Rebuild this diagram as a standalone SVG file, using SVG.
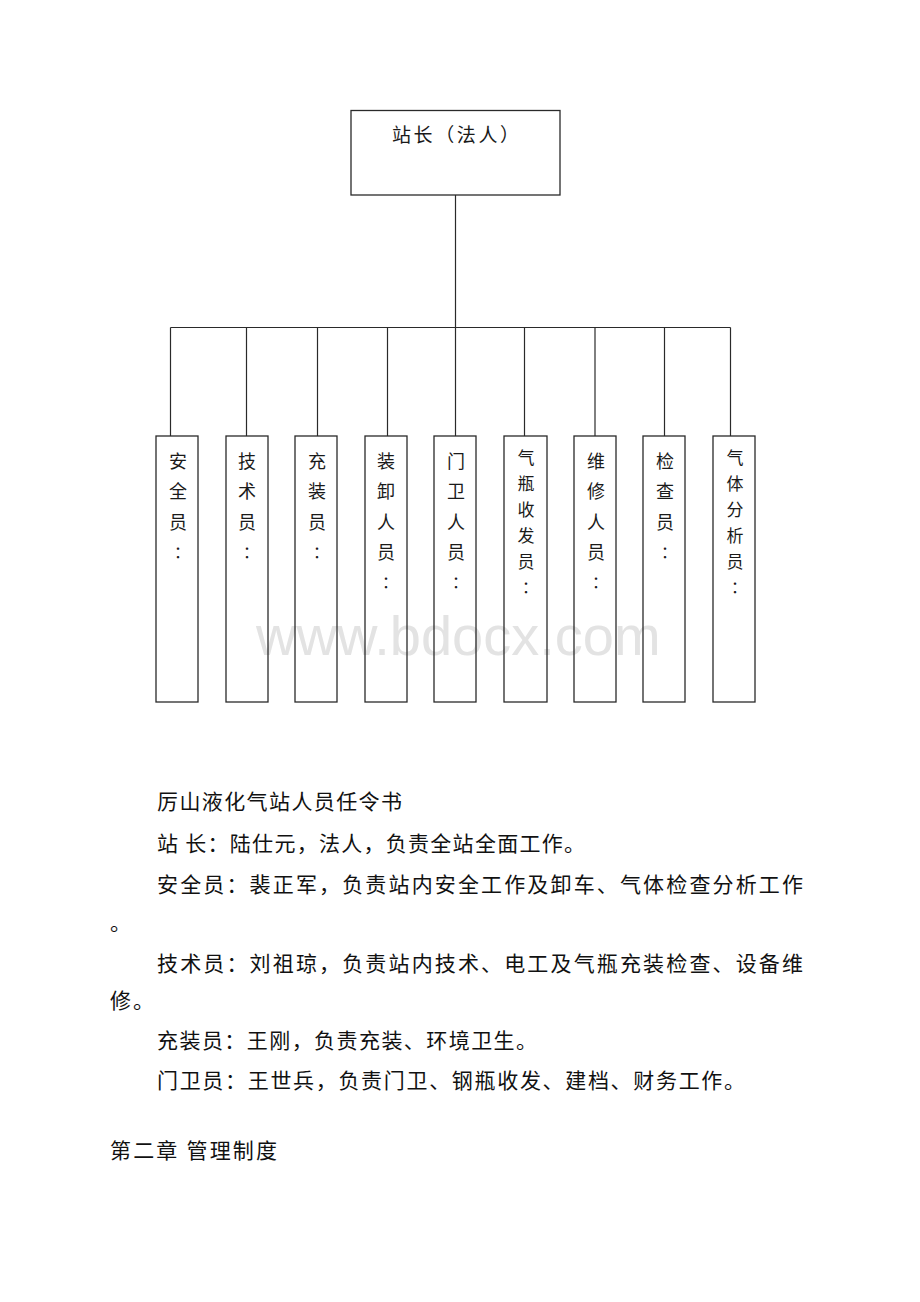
<svg xmlns="http://www.w3.org/2000/svg" width="920" height="1302" viewBox="0 0 920 1302">
<style>
.box{fill:none;stroke:#2a2a2a;stroke-width:1.3}
.ln{stroke:#2a2a2a;stroke-width:1.2;fill:none}
.lb{font-family:"Noto Sans CJK SC","Noto Sans",sans-serif;font-size:18px;fill:#1a1a1a;text-anchor:middle}
.lbs{font-family:"Noto Sans CJK SC","Noto Sans",sans-serif;font-size:17px;fill:#1a1a1a;text-anchor:middle}
.col{font-family:"Noto Sans CJK TC","Noto Sans",sans-serif;font-size:16px;fill:#1a1a1a;text-anchor:middle}
.p{font-family:"Noto Sans CJK SC","Liberation Serif",serif;font-size:21px;fill:#111}
.wm{font-family:"Liberation Sans",Arial,sans-serif;font-size:56px;fill:#e3e3e3}
</style>
<rect width="920" height="1302" fill="#fff"/>
<text class="wm" x="256" y="655">www.bdocx.com</text>
<g id="connectors">
<line class="ln" x1="455.5" y1="195" x2="455.5" y2="327.5"/>
<line class="ln" x1="170.5" y1="327.5" x2="730.5" y2="327.5"/>
<line class="ln" x1="170.5" y1="327.5" x2="170.5" y2="436"/>
<line class="ln" x1="246.5" y1="327.5" x2="246.5" y2="436"/>
<line class="ln" x1="317.5" y1="327.5" x2="317.5" y2="436"/>
<line class="ln" x1="387.5" y1="327.5" x2="387.5" y2="436"/>
<line class="ln" x1="455.5" y1="327.5" x2="455.5" y2="436"/>
<line class="ln" x1="524.5" y1="327.5" x2="524.5" y2="436"/>
<line class="ln" x1="595" y1="327.5" x2="595" y2="436"/>
<line class="ln" x1="664.5" y1="327.5" x2="664.5" y2="436"/>
<line class="ln" x1="730.5" y1="327.5" x2="730.5" y2="436"/>
</g>
<g id="n-head">
<rect class="box" x="351" y="110.5" width="209" height="84.5"/>
<text x="392" y="142" textLength="127" lengthAdjust="spacing" style="font-family:'Noto Sans CJK SC',sans-serif;font-size:19px;fill:#1a1a1a">站长（法人）</text>
</g>
<g id="n-anquan">
<rect class="box" x="156" y="436" width="42" height="266"/>
<text class="lb" x="178" y="468">安</text><text class="lb" x="178" y="498">全</text><text class="lb" x="178" y="529">员</text><text class="col" x="178" y="559">：</text>
</g>
<g id="n-jishu">
<rect class="box" x="226" y="436" width="42" height="266"/>
<text class="lb" x="247" y="468">技</text><text class="lb" x="247" y="498">术</text><text class="lb" x="247" y="529">员</text><text class="col" x="247" y="559">：</text>
</g>
<g id="n-chongzhuang">
<rect class="box" x="295" y="436" width="42" height="266"/>
<text class="lb" x="317" y="468">充</text><text class="lb" x="317" y="498">装</text><text class="lb" x="317" y="529">员</text><text class="col" x="317" y="559">：</text>
</g>
<g id="n-zhuangxie">
<rect class="box" x="365" y="436" width="42" height="266"/>
<text class="lb" x="386" y="468">装</text><text class="lb" x="386" y="498">卸</text><text class="lb" x="386" y="529">人</text><text class="lb" x="386" y="559">员</text><text class="col" x="386" y="589">：</text>
</g>
<g id="n-menwei">
<rect class="box" x="434" y="436" width="42" height="266"/>
<text class="lb" x="456" y="468">门</text><text class="lb" x="456" y="498">卫</text><text class="lb" x="456" y="529">人</text><text class="lb" x="456" y="559">员</text><text class="col" x="456" y="589">：</text>
</g>
<g id="n-qiping">
<rect class="box" x="504" y="436" width="43" height="266"/>
<text class="lbs" x="526" y="464">气</text><text class="lbs" x="526" y="490">瓶</text><text class="lbs" x="526" y="516">收</text><text class="lbs" x="526" y="542">发</text><text class="lbs" x="526" y="568">员</text><text class="col" x="526" y="594">：</text>
</g>
<g id="n-weixiu">
<rect class="box" x="574" y="436" width="42" height="266"/>
<text class="lb" x="596" y="468">维</text><text class="lb" x="596" y="498">修</text><text class="lb" x="596" y="529">人</text><text class="lb" x="596" y="559">员</text><text class="col" x="596" y="589">：</text>
</g>
<g id="n-jiancha">
<rect class="box" x="643" y="436" width="42" height="266"/>
<text class="lb" x="665" y="468">检</text><text class="lb" x="665" y="498">查</text><text class="lb" x="665" y="529">员</text><text class="col" x="665" y="559">：</text>
</g>
<g id="n-fenxi">
<rect class="box" x="713" y="436" width="42" height="266"/>
<text class="lbs" x="735" y="464">气</text><text class="lbs" x="735" y="490">体</text><text class="lbs" x="735" y="516">分</text><text class="lbs" x="735" y="542">析</text><text class="lbs" x="735" y="568">员</text><text class="col" x="735" y="594">：</text>
</g>
<g id="text-body">
<text class="p" x="157" y="809" textLength="245" lengthAdjust="spacing">厉山液化气站人员任令书</text>
<text class="p" x="157" y="851" textLength="428" lengthAdjust="spacing">站 长：陆仕元，法人，负责全站全面工作。</text>
<text class="p" x="157" y="892" textLength="646" lengthAdjust="spacing">安全员：裴正军，负责站内安全工作及卸车、气体检查分析工作</text>
<text class="p" x="110" y="930">。</text>
<text class="p" x="157" y="971" textLength="646" lengthAdjust="spacing">技术员：刘祖琼，负责站内技术、电工及气瓶充装检查、设备维</text>
<text class="p" x="110" y="1008" textLength="44" lengthAdjust="spacing">修。</text>
<text class="p" x="157" y="1048" textLength="380" lengthAdjust="spacing">充装员：王刚，负责充装、环境卫生。</text>
<text class="p" x="157" y="1088" textLength="588" lengthAdjust="spacing">门卫员：王世兵，负责门卫、钢瓶收发、建档、财务工作。</text>
<text class="p" x="110" y="1158" textLength="167" lengthAdjust="spacing">第二章 管理制度</text>
</g>
</svg>
